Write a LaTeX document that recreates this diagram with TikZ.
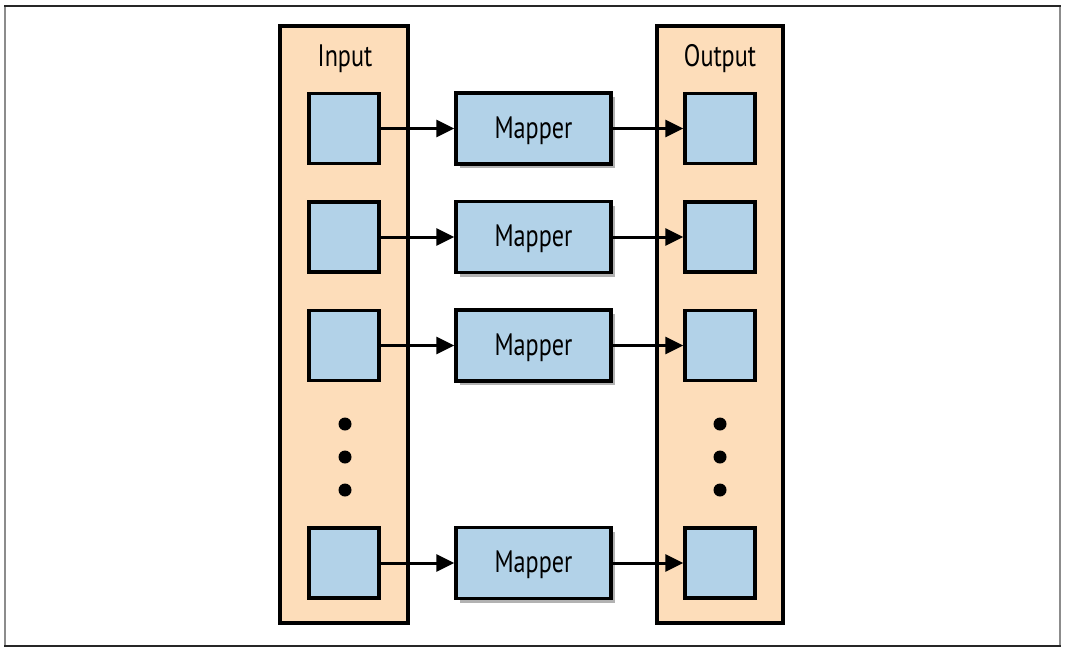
\documentclass[tikz,border=0pt]{standalone}
\usepackage{fontspec}
\setmainfont[FakeStretch=0.78]{PT Sans}
\usetikzlibrary{arrows.meta,shadows}
\definecolor{panel}{RGB}{253,221,186}
\definecolor{boxc}{RGB}{178,210,232}
\tikzset{
  panelbox/.style={draw=black,line width=3.5pt,fill=panel},
  smallbox/.style={draw=black,line width=3.5pt,fill=boxc,minimum width=70pt,minimum height=70pt,inner sep=0pt},
  mapbox/.style={draw=black,line width=3.5pt,fill=boxc,minimum width=155pt,minimum height=71pt,inner sep=0pt,
    font=\fontsize{31}{34}\selectfont,text height=19pt,text depth=0pt,
    drop shadow={shadow xshift=4pt,shadow yshift=-4pt,fill=black,opacity=0.3}},
  conn/.style={line width=3pt,-{Triangle[length=18pt,width=17pt]}},
  lbl/.style={font=\fontsize{31}{34}\selectfont,inner sep=0pt,anchor=base},
  dot/.style={circle,fill=black,minimum size=13pt,inner sep=0pt}
}
\begin{document}
\begin{tikzpicture}[x=1pt,y=-1pt]
\useasboundingbox (0,0) rectangle (1066,654);
\fill[white] (0,0) rectangle (1066,654);
% outer frame
\draw[draw=black!45,line width=1.5pt] (5,6) -- (5,646);
\draw[draw=black!45,line width=1.5pt] (1060,6) -- (1060,646);
\draw[draw=black!85,line width=2.5pt] (4,6) -- (1061,6);
\draw[draw=black!85,line width=2.5pt] (4,646) -- (1061,646);
% panels
\node[panelbox,minimum width=128pt,minimum height=597pt,inner sep=0pt] (inpanel) at (344,324.5) {};
\node[panelbox,minimum width=126pt,minimum height=597pt,inner sep=0pt] (outpanel) at (720,324.5) {};
\node[lbl] (inlbl) at (345,66) {Input};
\node[lbl] (outlbl) at (720,66) {Output};
% input boxes
\node[smallbox] (i1) at (344,128.5) {};
\node[smallbox] (i2) at (344,237) {};
\node[smallbox] (i3) at (344,345.5) {};
\node[smallbox] (i4) at (344,563) {};
% mappers
\node[mapbox] (m1) at (533.5,128.5) {Mapper};
\node[mapbox] (m2) at (533.5,237) {Mapper};
\node[mapbox] (m3) at (533.5,345.5) {Mapper};
\node[mapbox] (m4) at (533.5,563) {Mapper};
% output boxes
\node[smallbox] (o1) at (720,128.5) {};
\node[smallbox] (o2) at (720,237) {};
\node[smallbox] (o3) at (720,345.5) {};
\node[smallbox] (o4) at (720,563) {};
% dots
\node[dot] (di1) at (345,424) {};
\node[dot] (di2) at (345,457) {};
\node[dot] (di3) at (345,490) {};
\node[dot] (do1) at (720,424) {};
\node[dot] (do2) at (720,457) {};
\node[dot] (do3) at (720,490) {};
% connectors
\foreach \k in {1,2,3,4}{
  \draw[conn] (i\k.east) -- (m\k.west);
  \draw[conn] (m\k.east) -- (o\k.west);
}
\end{tikzpicture}
\end{document}
